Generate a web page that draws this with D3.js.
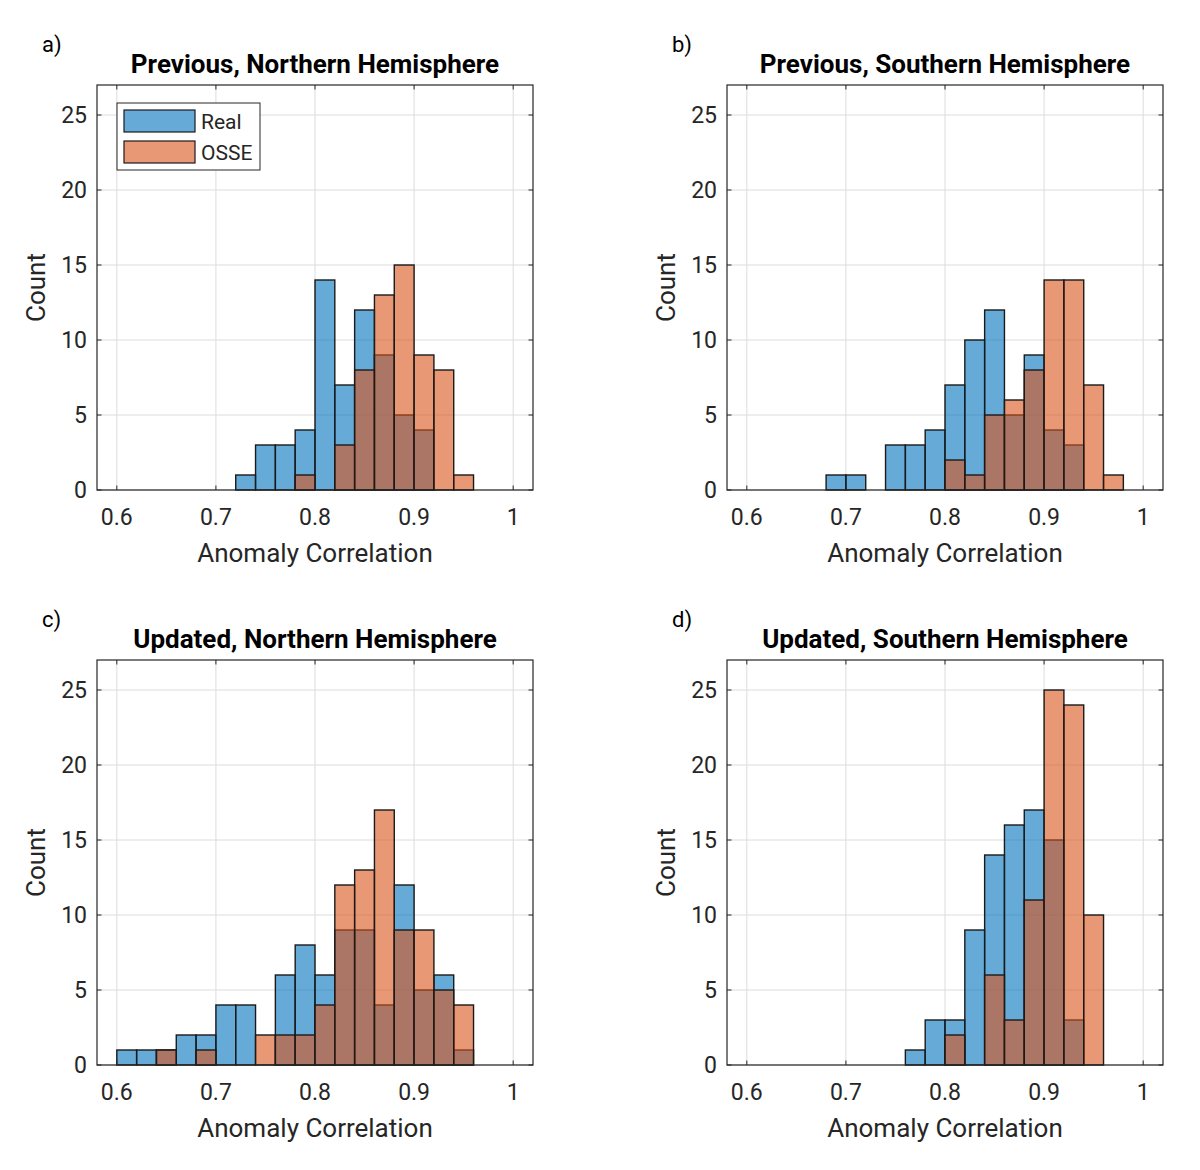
<!DOCTYPE html>
<html>
<head>
<meta charset="utf-8">
<script src="https://cdn.jsdelivr.net/npm/d3@7"></script>
<style>
  body { margin: 0; background: #fff; }
  svg { display: block; }
  text { font-family: Roboto, "Noto Sans", sans-serif; fill: #262626; }
</style>
</head>
<body>
<svg id="chart" width="1200" height="1170"></svg>
<script>
// Bin edges: 0.60 to 1.00 step 0.02 (20 bins)
const binEdges = [0.60,0.62,0.64,0.66,0.68,0.70,0.72,0.74,0.76,0.78,0.80,0.82,0.84,0.86,0.88,0.90,0.92,0.94,0.96,0.98,1.00];

const panelLabels = ["a)", "b)", "c)", "d)"];
const panelTitles = ["Previous, Northern Hemisphere", "Previous, Southern Hemisphere",
                     "Updated, Northern Hemisphere", "Updated, Southern Hemisphere"];
const seriesNames = ["Real", "OSSE"];

const realA = [0,0,0,0,0,0,1,3,3,4,14,7,12,9,5,4,0,0,0,0];
const osseA = [0,0,0,0,0,0,0,0,0,1,0,3,8,13,15,9,8,1,0,0];
const realB = [0,0,0,0,1,1,0,3,3,4,7,10,12,5,9,4,3,0,0,0];
const osseB = [0,0,0,0,0,0,0,0,0,0,2,1,5,6,8,14,14,7,1,0];
const realC = [1,1,1,2,2,4,4,0,6,8,6,9,9,4,12,5,6,1,0,0];
const osseC = [0,0,1,0,1,0,0,2,2,2,4,12,13,17,9,9,5,4,0,0];
const realD = [0,0,0,0,0,0,0,0,1,3,3,9,14,16,17,15,3,0,0,0];
const osseD = [0,0,0,0,0,0,0,0,0,0,2,0,6,3,11,25,24,10,0,0];

const xTicks = [0.6, 0.7, 0.8, 0.9, 1.0];
const yTicks = [0, 5, 10, 15, 20, 25];
const xDomain = [0.58, 1.02];
const yDomain = [0, 27];
const xLabel = "Anomaly Correlation";
const yLabel = "Count";

const panels = [
  {label: panelLabels[0], title: panelTitles[0], real: realA, osse: osseA, legend: true},
  {label: panelLabels[1], title: panelTitles[1], real: realB, osse: osseB, legend: false},
  {label: panelLabels[2], title: panelTitles[2], real: realC, osse: osseC, legend: false},
  {label: panelLabels[3], title: panelTitles[3], real: realD, osse: osseD, legend: false},
];

const colReal = "rgb(0,114,189)";
const colOsse = "rgb(217,83,25)";
const faceAlpha = 0.6;
const axisCol = "#262626";

const svg = d3.select("#chart");
const boxW = 436, boxH = 405;
const origins = [[97, 85], [727, 85], [97, 660], [727, 660]];

panels.forEach((p, i) => {
  const [ox, oy] = origins[i];
  const g = svg.append("g").attr("transform", `translate(${ox},${oy})`);
  const x = d3.scaleLinear().domain(xDomain).range([0, boxW]);
  const y = d3.scaleLinear().domain(yDomain).range([boxH, 0]);

  // grid
  g.append("g").selectAll("line").data(xTicks).join("line")
    .attr("x1", d => x(d)).attr("x2", d => x(d)).attr("y1", 0).attr("y2", boxH)
    .attr("stroke", "#dcdcdc").attr("stroke-width", 1);
  g.append("g").selectAll("line").data(yTicks).join("line")
    .attr("x1", 0).attr("x2", boxW).attr("y1", d => y(d)).attr("y2", d => y(d))
    .attr("stroke", "#dcdcdc").attr("stroke-width", 1);

  // bars
  const bins = (vals) => vals.map((v, k) => ({x0: binEdges[k], x1: binEdges[k+1], v}));
  [[p.real, colReal], [p.osse, colOsse]].forEach(([vals, col]) => {
    g.append("g").selectAll("rect").data(bins(vals).filter(b => b.v > 0)).join("rect")
      .attr("x", b => x(b.x0)).attr("width", b => x(b.x1) - x(b.x0))
      .attr("y", b => y(b.v)).attr("height", b => y(0) - y(b.v))
      .attr("fill", col).attr("fill-opacity", faceAlpha)
      .attr("stroke", "#1a1a1a").attr("stroke-width", 1.4);
  });

  // box
  g.append("rect").attr("x", 0).attr("y", 0).attr("width", boxW).attr("height", boxH)
    .attr("fill", "none").attr("stroke", axisCol).attr("stroke-width", 1.2);

  // ticks (inward, all four sides)
  const tl = 4.5;
  xTicks.forEach(t => {
    g.append("line").attr("x1", x(t)).attr("x2", x(t)).attr("y1", boxH).attr("y2", boxH - tl).attr("stroke", axisCol);
    g.append("line").attr("x1", x(t)).attr("x2", x(t)).attr("y1", 0).attr("y2", tl).attr("stroke", axisCol);
  });
  yTicks.forEach(t => {
    g.append("line").attr("x1", 0).attr("x2", tl).attr("y1", y(t)).attr("y2", y(t)).attr("stroke", axisCol);
    g.append("line").attr("x1", boxW).attr("x2", boxW - tl).attr("y1", y(t)).attr("y2", y(t)).attr("stroke", axisCol);
  });

  // tick labels
  const fmt = d => d === 1 ? "1" : d3.format(".1f")(d);
  g.append("g").selectAll("text").data(xTicks).join("text")
    .attr("x", d => x(d)).attr("y", boxH + 35).attr("text-anchor", "middle")
    .attr("font-size", 23).text(fmt);
  g.append("g").selectAll("text").data(yTicks).join("text")
    .attr("x", -10).attr("y", d => y(d) + 8.3).attr("text-anchor", "end")
    .attr("font-size", 23).text(d => d);

  // axis labels
  g.append("text").attr("x", boxW / 2).attr("y", boxH + 72).attr("text-anchor", "middle")
    .attr("font-size", 26).text(xLabel);
  g.append("text").attr("transform", `translate(-52,${boxH / 2}) rotate(-90)`)
    .attr("text-anchor", "middle").attr("font-size", 26).text(yLabel);

  // title
  g.append("text").attr("x", boxW / 2).attr("y", -12).attr("text-anchor", "middle")
    .attr("font-size", 26).attr("font-weight", "bold").style("fill", "#000").text(p.title);

  // panel label
  g.append("text").attr("x", -55).attr("y", -33).attr("font-size", 22).style("fill", "#000").text(p.label);

  // legend
  if (p.legend) {
    const lg = g.append("g").attr("transform", "translate(20,18)");
    lg.append("rect").attr("x", 0).attr("y", 0).attr("width", 143).attr("height", 67)
      .attr("fill", "#fff").attr("stroke", axisCol).attr("stroke-width", 1);
    [colReal, colOsse].forEach((c, k) => {
      lg.append("rect").attr("x", 7).attr("y", 7 + k * 31).attr("width", 71).attr("height", 22)
        .attr("fill", c).attr("fill-opacity", faceAlpha).attr("stroke", "#1a1a1a").attr("stroke-width", 1.2);
      lg.append("text").attr("x", 84).attr("y", 26 + k * 31).attr("font-size", 21).text(seriesNames[k]);
    });
  }
});
</script>
</body>
</html>
